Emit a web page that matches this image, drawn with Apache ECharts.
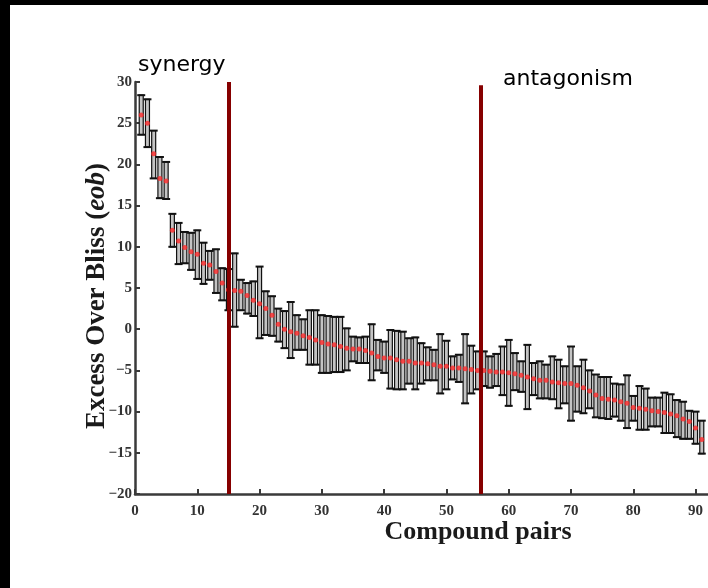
<!DOCTYPE html>
<html>
<head>
<meta charset="utf-8">
<script src="https://cdn.jsdelivr.net/npm/echarts@6/dist/echarts.min.js"></script>
<style>
  html, body { margin: 0; padding: 0; background: #fff; }
  #chart { width: 708px; height: 588px; }
</style>
</head>
<body>
<div id="chart"></div>
<script>
// Excess over Bliss (eob) per compound pair, sorted from strongest synergy to strongest antagonism
const pairIndex = [];
for (let i = 1; i <= 91; i++) pairIndex.push(i);

const eobMean = [
  26.0, 25.0, 21.3, 18.3, 18.0, 12.0, 10.7, 9.9, 9.4, 9.1,
  8.0, 7.8, 7.0, 5.6, 4.8, 4.7, 4.6, 4.1, 3.5, 3.1,
  2.5, 1.7, 0.6, 0.0, -0.3, -0.5, -0.8, -1.0, -1.3, -1.6,
  -1.8, -1.9, -2.1, -2.3, -2.4, -2.4, -2.6, -2.9, -3.3, -3.5,
  -3.5, -3.7, -3.9, -3.9, -4.1, -4.1, -4.2, -4.3, -4.5, -4.5,
  -4.7, -4.7, -4.8, -4.9, -5.0, -5.0, -5.1, -5.2, -5.2, -5.3,
  -5.4, -5.6, -5.8, -6.0, -6.2, -6.2, -6.4, -6.5, -6.6, -6.6,
  -6.8, -7.1, -7.5, -8.0, -8.4, -8.5, -8.6, -8.8, -9.0, -9.5,
  -9.6, -9.7, -9.9, -10.0, -10.1, -10.3, -10.5, -10.9, -11.2, -12.0,
  -13.4
];

const eobUpper = [
  28.4, 27.9, 24.1, 20.9, 20.3, 14.0, 12.9, 11.8, 11.7, 12.0,
  10.5, 9.5, 9.7, 7.4, 7.3, 9.2, 6.0, 5.6, 5.8, 7.6,
  4.6, 4.0, 2.5, 2.2, 3.3, 1.7, 1.2, 2.3, 2.3, 1.7,
  1.6, 1.5, 1.5, 0.1, -0.9, -1.0, -0.9, 0.6, -1.3, -1.5,
  -0.1, -0.2, -0.3, -1.1, -1.0, -1.7, -2.2, -2.5, -0.6, -1.4,
  -3.3, -3.1, -0.6, -2.0, -2.7, -2.7, -3.3, -3.0, -2.1, -1.3,
  -2.9, -3.9, -1.9, -4.1, -3.9, -4.3, -3.3, -3.7, -4.5, -2.1,
  -4.5, -3.7, -5.0, -5.5, -5.8, -5.8, -6.6, -6.7, -5.6, -8.1,
  -6.9, -7.2, -8.3, -8.3, -7.7, -7.9, -8.6, -8.8, -9.9, -10.0,
  -11.1
];

const eobLower = [
  23.6, 22.1, 18.3, 15.9, 15.8, 10.0, 7.9, 8.0, 7.2, 6.1,
  5.5, 6.0, 4.4, 3.5, 2.3, 0.3, 2.3, 1.9, 1.6, -1.1,
  -0.7, -0.8, -1.5, -2.3, -3.5, -2.5, -2.5, -4.3, -4.3, -5.3,
  -5.3, -5.2, -5.2, -5.0, -3.9, -4.1, -4.1, -6.2, -5.0, -5.3,
  -7.2, -7.3, -7.3, -6.6, -7.3, -6.6, -6.2, -6.2, -7.8, -7.3,
  -6.1, -6.4, -9.0, -7.8, -7.3, -6.9, -7.1, -6.9, -8.0, -9.3,
  -7.4, -7.6, -9.7, -8.0, -8.4, -8.4, -8.5, -9.6, -9.0, -11.1,
  -10.0, -10.2, -9.6, -10.7, -10.8, -10.9, -10.6, -11.1, -12.0, -11.1,
  -12.2, -12.2, -11.8, -11.8, -12.6, -12.6, -13.1, -13.3, -13.3, -13.9,
  -15.1
];

// Region boundaries (pair index) and their labels
const synergyCut = 15;
const antagonismCut = 55.5;
const regionLabels = ['synergy', 'antagonism'];

const xTicks = { min: 0, max: 92, interval: 10 };
const yTicks = { min: -20, max: 30, interval: 5 };

const errorData = pairIndex.map((x, i) => [x, eobLower[i], eobUpper[i]]);
const meanData = pairIndex.map((x, i) => [x, eobMean[i]]);

const chart = echarts.init(document.getElementById('chart'));

const tickFont = {
  fontFamily: 'Liberation Serif',
  fontWeight: 'bold',
  fontSize: 15,
  color: '#333'
};

function renderErrorBar(params, api) {
  const x = api.value(0);
  const lo = api.coord([x, api.value(1)]);
  const hi = api.coord([x, api.value(2)]);
  const capHalf = 4;
  const shaftHalf = 2;
  return {
    type: 'group',
    children: [
      {
        type: 'rect',
        shape: { x: hi[0] - shaftHalf, y: hi[1], width: shaftHalf * 2, height: lo[1] - hi[1] },
        style: { fill: '#c4c4c4', stroke: '#111', lineWidth: 1.2 }
      },
      {
        type: 'line',
        shape: { x1: hi[0] - capHalf, y1: hi[1], x2: hi[0] + capHalf, y2: hi[1] },
        style: { stroke: '#111', lineWidth: 2 }
      },
      {
        type: 'line',
        shape: { x1: lo[0] - capHalf, y1: lo[1], x2: lo[0] + capHalf, y2: lo[1] },
        style: { stroke: '#111', lineWidth: 2 }
      }
    ]
  };
}

chart.setOption({
  animation: false,
  backgroundColor: '#fff',
  grid: { left: 135, top: 82, width: 575, height: 412 },
  xAxis: {
    type: 'value',
    min: xTicks.min,
    max: xTicks.max,
    interval: xTicks.interval,
    splitLine: { show: false },
    axisLine: { onZero: false, lineStyle: { color: '#3a3a3a', width: 2.5 } },
    axisTick: { inside: true, length: 5, lineStyle: { color: '#3a3a3a', width: 2 } },
    axisLabel: Object.assign({ margin: 10, showMaxLabel: false }, tickFont)
  },
  yAxis: {
    type: 'value',
    min: yTicks.min,
    max: yTicks.max,
    interval: yTicks.interval,
    splitLine: { show: false },
    axisLine: { show: true, onZero: false, lineStyle: { color: '#3a3a3a', width: 2.5 } },
    axisTick: { show: true, inside: true, length: 5, lineStyle: { color: '#3a3a3a', width: 2 } },
    axisLabel: Object.assign({
      margin: 3,
      formatter: v => String(v).replace('-', '\u2212')
    }, tickFont)
  },
  series: [
    {
      type: 'custom',
      renderItem: renderErrorBar,
      data: errorData,
      z: 2,
      encode: { x: 0, y: [1, 2] }
    },
    {
      type: 'scatter',
      data: meanData,
      symbol: 'circle',
      symbolSize: 5,
      itemStyle: { color: '#ff2b2b' },
      z: 4,
      markLine: {
        silent: true,
        symbol: 'none',
        label: { show: false },
        lineStyle: { color: '#860000', width: 4, type: 'solid' },
        data: [
          [{ coord: [synergyCut, 30] }, { coord: [synergyCut, -20] }],
          [{ coord: [antagonismCut, 29.6] }, { coord: [antagonismCut, -20] }]
        ]
      }
    }
  ],
  graphic: [
    { type: 'rect', shape: { x: 0, y: 0, width: 708, height: 5 }, style: { fill: '#000' }, z: 100 },
    { type: 'rect', shape: { x: 0, y: 0, width: 10, height: 588 }, style: { fill: '#000' }, z: 100 },
    {
      type: 'text', left: 138, top: 54, z: 50,
      style: { text: regionLabels[0], font: '22px "DejaVu Sans"', fill: '#000' }
    },
    {
      type: 'text', left: 503, top: 68, z: 50,
      style: { text: regionLabels[1], font: '22px "DejaVu Sans"', fill: '#000' }
    },
    {
      type: 'text', z: 50,
      x: 97, y: 296, rotation: Math.PI / 2,
      style: {
        text: '{b|Excess Over Bliss (}{i|eob}{b|)}',
        align: 'center', verticalAlign: 'middle',
        rich: {
          b: { fontFamily: 'Liberation Serif', fontWeight: 'bold', fontSize: 27, fill: '#1a1a1a' },
          i: { fontFamily: 'Liberation Serif', fontWeight: 'bold', fontStyle: 'italic', fontSize: 27, fill: '#1a1a1a' }
        }
      }
    },
    {
      type: 'text', z: 50,
      x: 478, y: 532,
      style: {
        text: 'Compound pairs',
        align: 'center', verticalAlign: 'middle',
        font: 'bold 26px "Liberation Serif"', fill: '#1a1a1a'
      }
    }
  ]
});
</script>
</body>
</html>
